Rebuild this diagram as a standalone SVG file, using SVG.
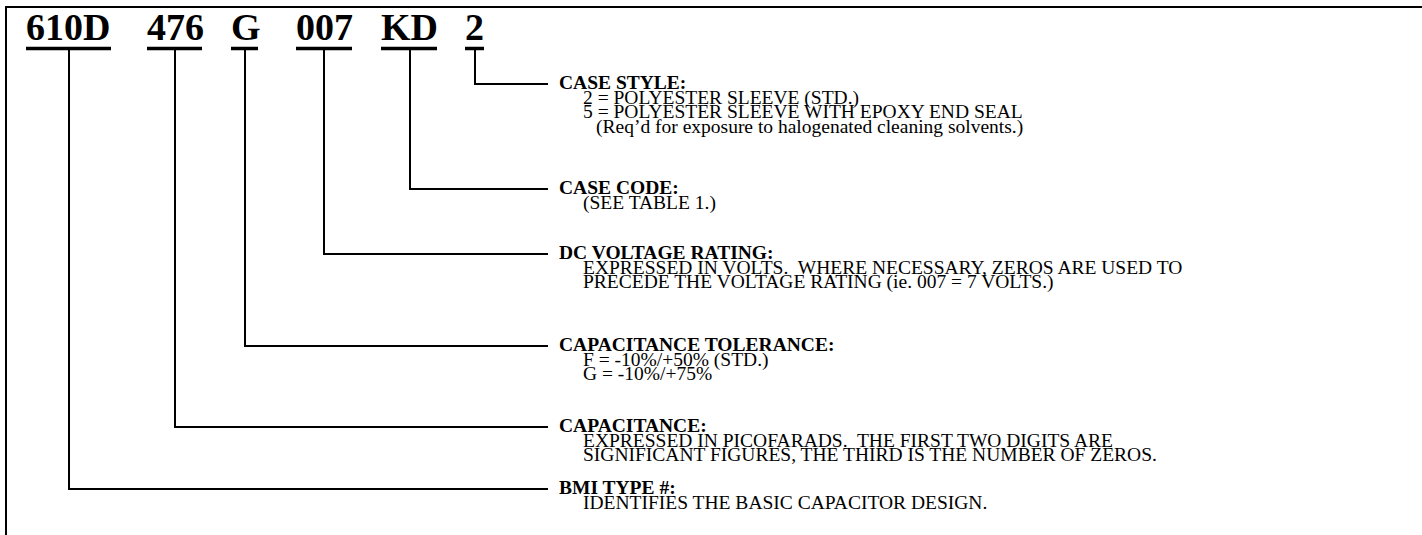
<svg xmlns="http://www.w3.org/2000/svg" width="1422" height="535" viewBox="0 0 1422 535">
<style>
.title{font-family:"Liberation Serif","Times New Roman",serif;font-weight:bold;font-size:38px;fill:#000}
.hd{font-family:"Liberation Serif","Times New Roman",serif;font-weight:bold;font-size:19.5px;fill:#000}
.bd{font-family:"Liberation Serif","Times New Roman",serif;font-size:19.5px;fill:#000;white-space:pre}
.ln{stroke:#000;stroke-width:2;fill:none}
.ul{stroke:#000;stroke-width:3.5}
</style>
<rect width="1422" height="535" fill="#fff"/>
<g id="frame"><path class="ln" d="M6,535 V7 H1422"/></g>
<g id="title">
<text class="title" x="26" y="40">610D</text><line class="ul" x1="26" y1="48.5" x2="111" y2="48.5"/>
<text class="title" x="147" y="40">476</text><line class="ul" x1="147" y1="48.5" x2="202" y2="48.5"/>
<text class="title" x="231" y="40">G</text><line class="ul" x1="231" y1="48.5" x2="258" y2="48.5"/>
<text class="title" x="296" y="40">007</text><line class="ul" x1="296" y1="48.5" x2="352" y2="48.5"/>
<text class="title" x="381" y="40">KD</text><line class="ul" x1="381" y1="48.5" x2="437" y2="48.5"/>
<text class="title" x="465" y="40">2</text><line class="ul" x1="465" y1="48.5" x2="484" y2="48.5"/>
</g>
<g id="connectors">
<path class="ln" d="M475,50 V84 H548"/>
<path class="ln" d="M410,50 V189 H548"/>
<path class="ln" d="M324,50 V254 H548"/>
<path class="ln" d="M245,50 V346 H548"/>
<path class="ln" d="M175,50 V427 H548"/>
<path class="ln" d="M69,50 V489 H548"/>
</g>
<g id="case-style">
<text class="hd" x="559" y="89">CASE STYLE:</text>
<text class="bd" x="583" y="103.5">2 = POLYESTER SLEEVE (STD.)</text>
<text class="bd" x="583" y="118">5 = POLYESTER SLEEVE WITH EPOXY END SEAL</text>
<text class="bd" x="596" y="132.5">(Req’d for exposure to halogenated cleaning solvents.)</text>
</g>
<g id="case-code">
<text class="hd" x="559" y="194">CASE CODE:</text>
<text class="bd" x="583" y="208.5">(SEE TABLE 1.)</text>
</g>
<g id="dc-voltage">
<text class="hd" x="559" y="259">DC VOLTAGE RATING:</text>
<text class="bd" x="583" y="273.5" xml:space="preserve">EXPRESSED IN VOLTS.  WHERE NECESSARY, ZEROS ARE USED TO</text>
<text class="bd" x="583" y="288">PRECEDE THE VOLTAGE RATING (ie. 007 = 7 VOLTS.)</text>
</g>
<g id="cap-tolerance">
<text class="hd" x="559" y="351">CAPACITANCE TOLERANCE:</text>
<text class="bd" x="583" y="365.5">F = -10%/+50% (STD.)</text>
<text class="bd" x="583" y="380">G = -10%/+75%</text>
</g>
<g id="capacitance">
<text class="hd" x="559" y="432">CAPACITANCE:</text>
<text class="bd" x="583" y="446.5" xml:space="preserve">EXPRESSED IN PICOFARADS.  THE FIRST TWO DIGITS ARE</text>
<text class="bd" x="583" y="461">SIGNIFICANT FIGURES, THE THIRD IS THE NUMBER OF ZEROS.</text>
</g>
<g id="bmi-type">
<text class="hd" x="559" y="494">BMI TYPE #:</text>
<text class="bd" x="583" y="508.5">IDENTIFIES THE BASIC CAPACITOR DESIGN.</text>
</g>
</svg>
